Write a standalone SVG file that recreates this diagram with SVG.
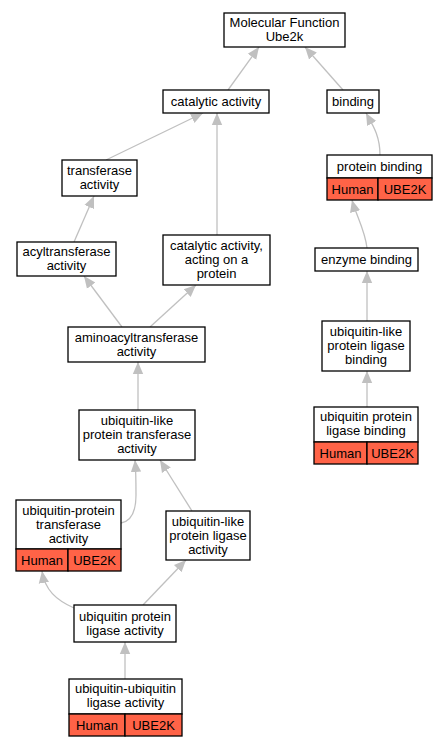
<svg xmlns="http://www.w3.org/2000/svg" width="445" height="747" viewBox="0 0 445 747">
<defs>
<style>
.box{fill:#ffffff;stroke:#000000;stroke-width:1.3}
.red{fill:#ff6347;stroke:#000000;stroke-width:1.3}
text{font-family:"Liberation Sans",Arial,sans-serif;font-size:13px;fill:#000000;text-anchor:middle}
.edge{fill:none;stroke:#c0c0c0;stroke-width:1.3}
</style>
<marker id="arr" markerUnits="userSpaceOnUse" markerWidth="13" markerHeight="12" refX="12" refY="6" orient="auto">
<path d="M0,0.8 L12,6 L0,11.2 z" fill="#c0c0c0"/>
</marker>
</defs>
<rect width="445" height="747" fill="#ffffff"/>
<g id="edges">
<path class="edge" marker-end="url(#arr)" d="M228,90 L259,47"/>
<path class="edge" marker-end="url(#arr)" d="M343,90 L305,47"/>
<path class="edge" marker-end="url(#arr)" d="M106,160 L203,113"/>
<path class="edge" marker-end="url(#arr)" d="M217,235 L217,113"/>
<path class="edge" marker-end="url(#arr)" d="M380,155 C380,135 372,124 366,113"/>
<path class="edge" marker-end="url(#arr)" d="M74,242 L94,196"/>
<path class="edge" marker-end="url(#arr)" d="M122,327 L84,276"/>
<path class="edge" marker-end="url(#arr)" d="M150,327 L196,285"/>
<path class="edge" marker-end="url(#arr)" d="M367,248 C365,230 356,215 352,200"/>
<path class="edge" marker-end="url(#arr)" d="M367,321 L367,271"/>
<path class="edge" marker-end="url(#arr)" d="M367,407 L367,371"/>
<path class="edge" marker-end="url(#arr)" d="M138,410 L138,362"/>
<path class="edge" marker-end="url(#arr)" d="M121,523 C132,521 136,510 136,495 C136,482 136,472 135,460"/>
<path class="edge" marker-end="url(#arr)" d="M192,511 L160,460"/>
<path class="edge" marker-end="url(#arr)" d="M74,608 C56,600 45,590 42,571"/>
<path class="edge" marker-end="url(#arr)" d="M143,605 L186,560"/>
<path class="edge" marker-end="url(#arr)" d="M125,679 L125,642"/>
</g>
<g id="n_mf">
<rect class="box" x="224" y="13" width="121" height="34"/>
<text x="284.5" y="27">Molecular Function</text>
<text x="284.5" y="41">Ube2k</text>
</g>
<g id="n_catalytic">
<rect class="box" x="163" y="90" width="106" height="23"/>
<text x="216" y="106">catalytic activity</text>
</g>
<g id="n_binding">
<rect class="box" x="327" y="90" width="52" height="23"/>
<text x="353" y="106">binding</text>
</g>
<g id="n_transferase">
<rect class="box" x="62" y="160" width="75" height="36"/>
<text x="99.5" y="175">transferase</text>
<text x="99.5" y="189">activity</text>
</g>
<g id="n_protein_binding">
<rect class="box" x="327" y="155" width="105" height="23"/>
<text x="379.5" y="171">protein binding</text>
<rect class="red" x="327" y="178" width="51" height="22"/>
<text x="352.5" y="193.5">Human</text>
<rect class="red" x="378" y="178" width="54" height="22"/>
<text x="405" y="193.5">UBE2K</text>
</g>
<g id="n_acyl">
<rect class="box" x="17" y="242" width="99" height="34"/>
<text x="66.5" y="256">acyltransferase</text>
<text x="66.5" y="270">activity</text>
</g>
<g id="n_cat_protein">
<rect class="box" x="163" y="235" width="107" height="50"/>
<text x="216.5" y="250">catalytic activity,</text>
<text x="216.5" y="264">acting on a</text>
<text x="216.5" y="278">protein</text>
</g>
<g id="n_enzyme">
<rect class="box" x="315" y="248" width="103" height="23"/>
<text x="366.5" y="264">enzyme binding</text>
</g>
<g id="n_aminoacyl">
<rect class="box" x="68" y="327" width="137" height="35"/>
<text x="136.5" y="341.5">aminoacyltransferase</text>
<text x="136.5" y="355.5">activity</text>
</g>
<g id="n_ubl_ligase_binding">
<rect class="box" x="322" y="321" width="88" height="50"/>
<text x="366" y="336">ubiquitin-like</text>
<text x="366" y="350">protein ligase</text>
<text x="366" y="364">binding</text>
</g>
<g id="n_ub_ligase_binding">
<rect class="box" x="314" y="407" width="104" height="35"/>
<text x="366" y="421">ubiquitin protein</text>
<text x="366" y="435">ligase binding</text>
<rect class="red" x="314" y="442" width="53" height="22"/>
<text x="340.5" y="457.5">Human</text>
<rect class="red" x="367" y="442" width="51" height="22"/>
<text x="392.5" y="457.5">UBE2K</text>
</g>
<g id="n_ubl_transferase">
<rect class="box" x="79" y="410" width="116" height="50"/>
<text x="137" y="425">ubiquitin-like</text>
<text x="137" y="439">protein transferase</text>
<text x="137" y="453">activity</text>
</g>
<g id="n_ub_transferase">
<rect class="box" x="16" y="500" width="105" height="49"/>
<text x="68.5" y="515">ubiquitin-protein</text>
<text x="68.5" y="529">transferase</text>
<text x="68.5" y="543">activity</text>
<rect class="red" x="16" y="549" width="52" height="22"/>
<text x="42" y="564.5">Human</text>
<rect class="red" x="68" y="549" width="53" height="22"/>
<text x="94.5" y="564.5">UBE2K</text>
</g>
<g id="n_ubl_ligase">
<rect class="box" x="166" y="511" width="84" height="49"/>
<text x="208" y="526">ubiquitin-like</text>
<text x="208" y="540">protein ligase</text>
<text x="208" y="554">activity</text>
</g>
<g id="n_ub_ligase">
<rect class="box" x="74" y="605" width="102" height="37"/>
<text x="125" y="620.5">ubiquitin protein</text>
<text x="125" y="634.5">ligase activity</text>
</g>
<g id="n_ub_ub_ligase">
<rect class="box" x="69" y="679" width="113" height="35"/>
<text x="125.5" y="693">ubiquitin-ubiquitin</text>
<text x="125.5" y="707">ligase activity</text>
<rect class="red" x="69" y="714" width="56" height="22"/>
<text x="97" y="729.5">Human</text>
<rect class="red" x="125" y="714" width="57" height="22"/>
<text x="153.5" y="729.5">UBE2K</text>
</g>
</svg>
